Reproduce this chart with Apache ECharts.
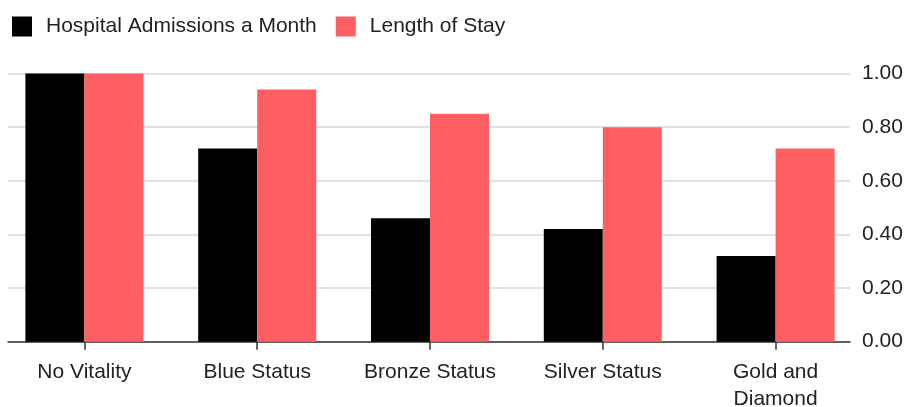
<!DOCTYPE html>
<html>
<head>
<meta charset="utf-8">
<script src="https://cdn.jsdelivr.net/npm/echarts@6/dist/echarts.min.js"></script>
<style>
html,body{margin:0;padding:0;background:#fff;}
#chart{width:909px;height:407px;}
</style>
</head>
<body>
<div id="chart"></div>
<script>
var categories = ['No Vitality', 'Blue Status', 'Bronze Status', 'Silver Status', 'Gold and\nDiamond'];
var admissions = [1.00, 0.72, 0.46, 0.42, 0.32];
var lengthOfStay = [1.00, 0.94, 0.85, 0.80, 0.72];
var seriesNames = ['Hospital Admissions a Month', 'Length of Stay'];
var yTicks = [0, 0.2, 0.4, 0.6, 0.8, 1.0];

var FONT = 'Liberation Sans, Arial, Helvetica, sans-serif';
var TXT = '#222';

var chart = echarts.init(document.getElementById('chart'), null, {renderer: 'canvas'});
chart.setOption({
  animation: false,
  backgroundColor: '#fff',
  textStyle: {fontFamily: FONT},
  legend: {
    left: 12, top: 16, padding: 0,
    icon: 'rect',
    itemWidth: 20, itemHeight: 20,
    itemGap: 19,
    data: seriesNames,
    textStyle: {fontSize: 21, color: TXT, fontFamily: FONT, padding: [0, 0, 0, 9]}
  },
  grid: [
    {left: -2, right: 47, top: 73.5, bottom: 65.3, containLabel: false, outerBoundsMode: 'none'},
    {left: 8, right: 59, top: 73.5, bottom: 65.3, containLabel: false, outerBoundsMode: 'none'}
  ],
  xAxis: [
    {
      type: 'category', gridIndex: 0, data: categories,
      axisLine: {show: false},
      axisTick: {show: true, alignWithLabel: true, length: 8, lineStyle: {color: '#333', width: 1.5}},
      axisLabel: {margin: 17, fontSize: 21, color: TXT, fontFamily: FONT, lineHeight: 27, interval: 0}
    },
    {
      type: 'value', gridIndex: 1, min: 0, max: 1,
      axisLine: {show: true, lineStyle: {color: '#333', width: 1.5}},
      axisTick: {show: false}, axisLabel: {show: false}, splitLine: {show: false}
    }
  ],
  yAxis: [
    {type: 'value', gridIndex: 0, min: 0, max: 1, show: false},
    {
      type: 'value', gridIndex: 1, position: 'right', min: yTicks[0], max: yTicks[yTicks.length - 1], interval: 0.2,
      axisLine: {show: false}, axisTick: {show: false},
      splitLine: {show: true, lineStyle: {color: '#e2e2e2', width: 2}},
      axisLabel: {margin: 12, fontSize: 21, color: TXT, fontFamily: FONT, formatter: function (v) { return v.toFixed(2); }}
    }
  ],
  series: [
    {name: seriesNames[0], type: 'bar', xAxisIndex: 0, yAxisIndex: 0, data: admissions, barWidth: 59, barGap: '0%', itemStyle: {color: '#000000'}},
    {name: seriesNames[1], type: 'bar', xAxisIndex: 0, yAxisIndex: 0, data: lengthOfStay, barWidth: 59, barGap: '0%', itemStyle: {color: '#ff5f62'}}
  ]
});
</script>
</body>
</html>
